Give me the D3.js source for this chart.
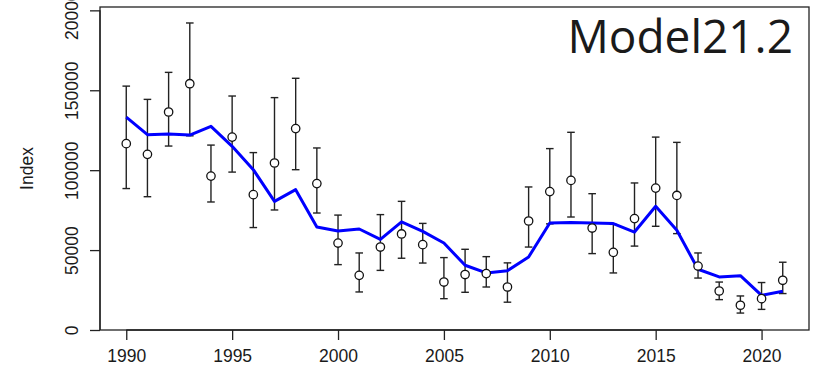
<!DOCTYPE html>
<html>
<head>
<meta charset="utf-8">
<script src="https://cdn.jsdelivr.net/npm/d3@7"></script>
<style>
  body { margin: 0; background: #fff; }
  svg { display: block; }
  text { font-family: "Liberation Sans", Arial, sans-serif; fill: #1a1a1a; }
</style>
</head>
<body>
<div id="chart"></div>
<script>
// observed index with CI, and model fit (Model21.2)
const years = d3.range(1990, 2022)
const obsIndex = [116.6, 109.9, 136.4, 154.1, 96.3, 120.7, 84.7, 104.5, 126.0, 91.6,
	54.4, 34.2, 51.9, 60.1, 53.4, 30.0, 34.7, 35.3, 26.9, 68.2,
	86.6, 93.6, 63.8, 48.6, 69.7, 88.8, 84.2, 40.0, 24.4, 15.5,
	19.6, 31.1].map(v => v * 1000)
const upperCI = [152.6, 144.3, 161.2, 192.1, 115.7, 146.4, 111.0, 145.4, 157.5, 113.9,
	71.9, 48.2, 72.2, 80.5, 66.7, 45.3, 50.5, 45.9, 42.0, 89.5,
	113.5, 123.7, 85.3, 66.1, 92.0, 120.7, 117.4, 48.2, 30.0, 21.3,
	29.7, 42.4].map(v => v * 1000)
const lowerCI = [88.5, 83.4, 115.1, 121.5, 80.1, 98.8, 64.1, 75.1, 100.3, 73.2,
	40.9, 23.8, 37.3, 44.9, 41.9, 19.6, 23.6, 26.9, 17.4, 51.9,
	66.4, 70.7, 47.8, 35.7, 52.5, 64.9, 60.3, 32.5, 19.0, 10.6,
	12.9, 22.8].map(v => v * 1000)
const fitted = [133.2, 122.2, 122.6, 122.0, 127.4, 114.9, 100.3, 80.5, 87.8, 64.4,
	61.9, 63.2, 56.7, 67.6, 61.7, 54.4, 40.5, 35.7, 37.1, 45.7,
	66.9, 67.2, 66.9, 66.6, 61.3, 77.4, 62.4, 38.0, 33.2, 34.0,
	21.7, 24.2].map(v => v * 1000)
const yTicks = [0, 50000, 100000, 150000, 200000]
const xTicks = [1990, 1995, 2000, 2005, 2010, 2015, 2020]
const title = "Model21.2"

const width = 813, height = 375
const margin = { top: 7, right: 4, bottom: 45, left: 100 }
const innerW = width - margin.left - margin.right
const innerH = height - margin.top - margin.bottom

const svg = d3.select("#chart").append("svg")
	.attr("width", width)
	.attr("height", height)

const g = svg.append("g")
	.attr("transform", "translate(" + margin.left + "," + margin.top + ")")

// R style 4% padding on x
const pad = (2021 - 1990) * 0.04
const x = d3.scaleLinear().domain([1990 - pad, 2021 + pad]).range([0, innerW])
const y = d3.scaleLinear().domain([0, 202100]).range([innerH, 0])

// box
g.append("rect")
	.attr("width", innerW)
	.attr("height", innerH)
	.attr("fill", "none")
	.attr("stroke", "#222")
	.attr("stroke-width", 1.3)

// axes
const xAxis = g.append("g")
	.attr("transform", "translate(0," + innerH + ")")
	.call(d3.axisBottom(x).tickValues(xTicks).tickFormat(d3.format("d")).tickSize(10).tickPadding(8))
xAxis.select(".domain").attr("d", "M" + x(1990) + ",0H" + x(2020))

const yAxis = g.append("g")
	.call(d3.axisLeft(y).tickValues(yTicks).tickFormat(d3.format("d")).tickSize(10).tickPadding(0))
yAxis.select(".domain").attr("d", "M0," + y(0) + "V" + y(200000))

g.selectAll(".domain, .tick line").attr("stroke", "#222").attr("stroke-width", 1.3)
xAxis.selectAll("text")
	.attr("font-size", "17.5px")
	.attr("font-family", "Liberation Sans, Arial, sans-serif")
	.attr("fill", "#1a1a1a")
	.attr("dy", null)
	.attr("y", 32)
yAxis.selectAll("text")
	.attr("font-size", "17.5px")
	.attr("font-family", "Liberation Sans, Arial, sans-serif")
	.attr("fill", "#1a1a1a")
	.attr("text-anchor", "middle")
	.attr("x", null)
	.attr("dy", null)
	.attr("transform", "translate(-22,0) rotate(-90)")

// y label
svg.append("text")
	.attr("transform", "translate(33," + (margin.top + innerH / 2) + ") rotate(-90)")
	.attr("text-anchor", "middle")
	.attr("font-size", "17.5px")
	.text("Index")

// error bars
const rows = years.map((yr, i) => ({ year: yr, obs: obsIndex[i], hi: upperCI[i], lo: lowerCI[i], fit: fitted[i] }))
const capW = 3.8

const bars = g.selectAll(".err").data(rows).enter().append("g").attr("class", "err")
	.attr("stroke", "#222").attr("stroke-width", 1.4)
bars.append("line")
	.attr("x1", d => x(d.year)).attr("x2", d => x(d.year))
	.attr("y1", d => y(d.lo)).attr("y2", d => y(d.hi))
bars.append("line")
	.attr("x1", d => x(d.year) - capW).attr("x2", d => x(d.year) + capW)
	.attr("y1", d => y(d.hi)).attr("y2", d => y(d.hi))
bars.append("line")
	.attr("x1", d => x(d.year) - capW).attr("x2", d => x(d.year) + capW)
	.attr("y1", d => y(d.lo)).attr("y2", d => y(d.lo))

// fitted line
const line = d3.line().x(d => x(d.year)).y(d => y(d.fit))
g.append("path")
	.datum(rows)
	.attr("d", line)
	.attr("fill", "none")
	.attr("stroke", "#0000ff")
	.attr("stroke-width", 3)
	.attr("stroke-linejoin", "round")

// observed points
g.selectAll(".pt").data(rows).enter().append("circle")
	.attr("class", "pt")
	.attr("cx", d => x(d.year))
	.attr("cy", d => y(d.obs))
	.attr("r", 4.2)
	.attr("fill", "#fff")
	.attr("stroke", "#111")
	.attr("stroke-width", 1.3)

// title
svg.append("text")
	.attr("x", 793)
	.attr("y", 53)
	.attr("text-anchor", "end")
	.attr("font-family", "'Open Sans', sans-serif")
	.attr("font-size", "46px")
	.style("font-family", "'Open Sans', sans-serif")
	.text(title)
</script>
</body>
</html>
